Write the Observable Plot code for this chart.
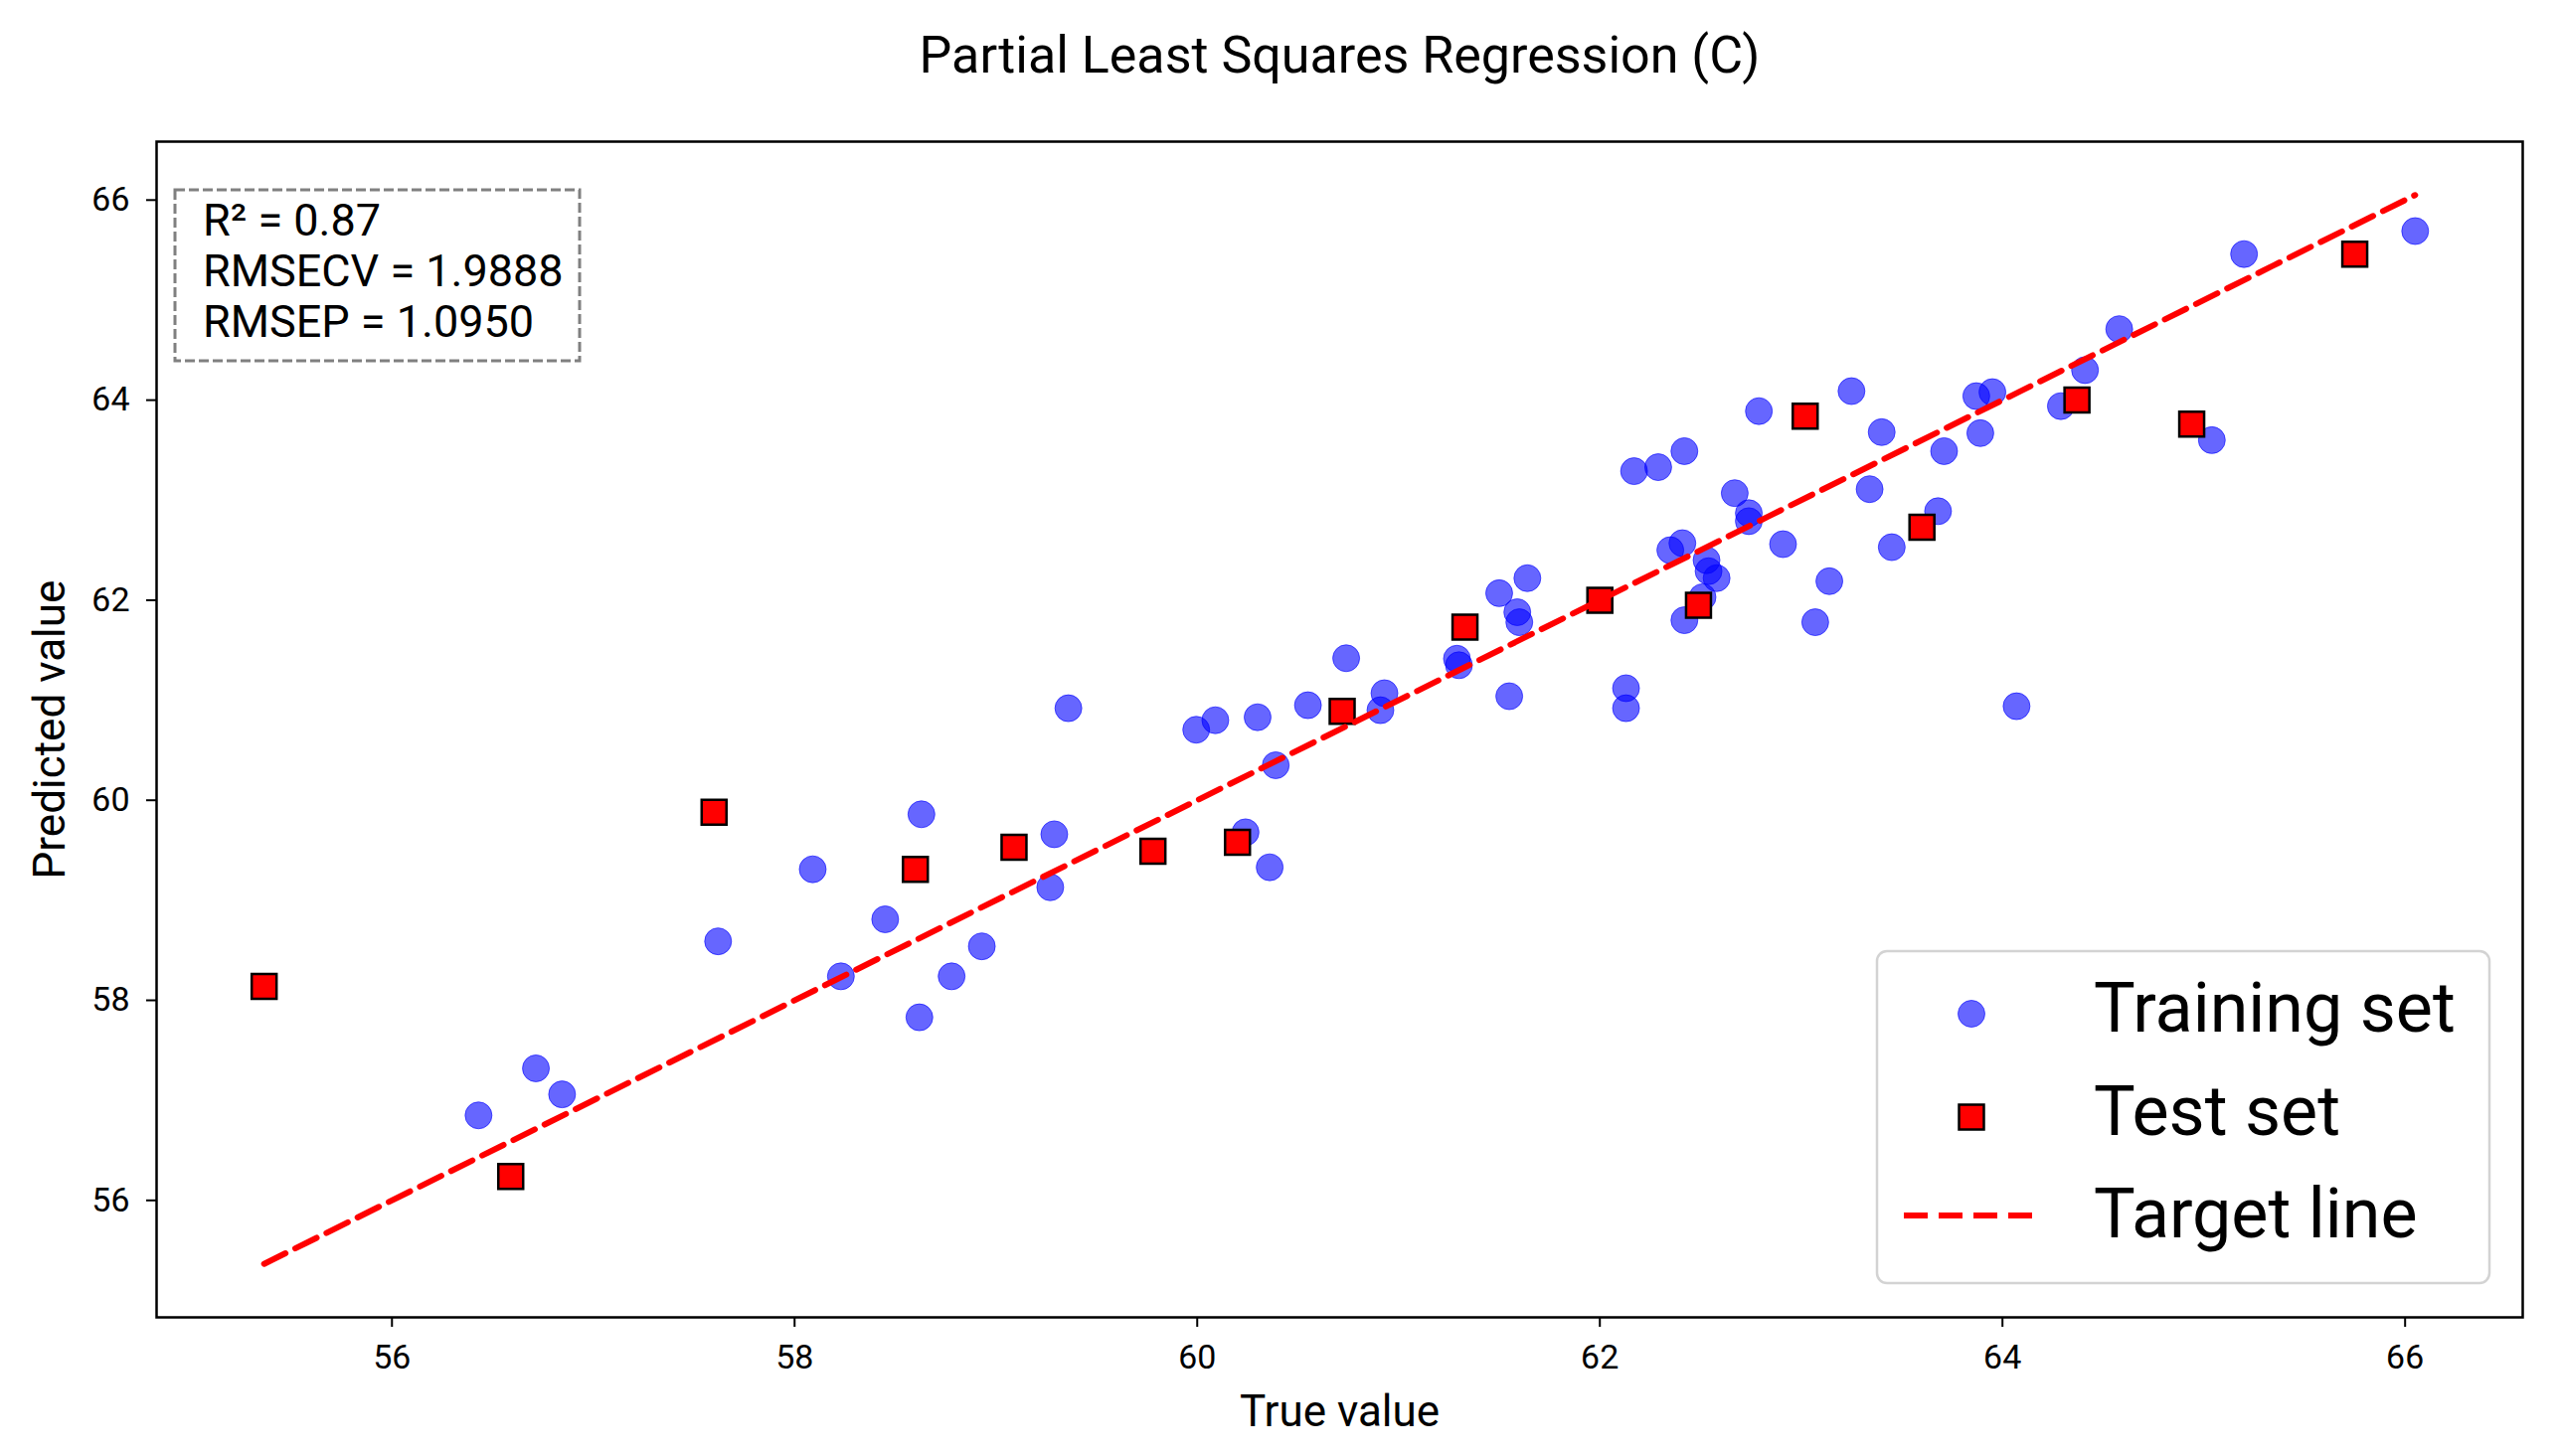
<!DOCTYPE html>
<html>
<head>
<meta charset="utf-8">
<script src="https://cdn.jsdelivr.net/npm/d3@7"></script>
<script src="https://cdn.jsdelivr.net/npm/@observablehq/plot@0.6"></script>
<style>
  html, body { margin: 0; padding: 0; background: white; }
  #chart { width: 2575px; height: 1465px; }
</style>
</head>
<body>
<div id="chart"></div>
<script>
// ---- data ----
const trainTrue = [56.43, 56.715, 56.845, 57.62, 58.09, 58.23, 58.45, 58.62, 58.63, 58.78, 58.93, 59.27, 59.29, 59.36, 59.995, 60.09, 60.24, 60.30, 60.36, 60.39, 60.55, 60.74, 60.91, 60.93, 61.29, 61.30, 61.50, 61.55, 61.59, 61.60, 61.64, 62.13, 62.13, 62.17, 62.29, 62.35, 62.41, 62.42, 62.42, 62.51, 62.53, 62.54, 62.58, 62.67, 62.74, 62.74, 62.79, 62.91, 63.07, 63.14, 63.25, 63.34, 63.40, 63.45, 63.68, 63.71, 63.87, 63.89, 63.95, 64.07, 64.29, 64.41, 64.58, 65.04, 65.20, 66.05];
const trainPred = [56.85, 57.32, 57.06, 58.59, 59.31, 58.24, 58.81, 57.83, 59.86, 58.24, 58.54, 59.13, 59.66, 60.92, 60.705, 60.80, 59.68, 60.83, 59.33, 60.35, 60.95, 61.42, 60.90, 61.07, 61.415, 61.35, 62.07, 61.04, 61.88, 61.78, 62.22, 61.12, 60.92, 63.29, 63.33, 62.50, 62.57, 63.49, 61.80, 62.03, 62.40, 62.29, 62.22, 63.07, 62.87, 62.79, 63.89, 62.56, 61.78, 62.19, 64.09, 63.11, 63.68, 62.53, 62.89, 63.49, 64.04, 63.67, 64.08, 60.94, 63.94, 64.30, 64.71, 63.60, 65.46, 65.69];
const testTrue = [55.365, 56.59, 57.60, 58.60, 59.09, 59.78, 60.20, 60.72, 61.33, 62.00, 62.49, 63.02, 63.60, 64.37, 64.94, 65.75];
const testPred = [58.14, 56.24, 59.88, 59.31, 59.53, 59.49, 59.58, 60.89, 61.73, 62.00, 61.95, 63.84, 62.73, 64.00, 63.76, 65.46];
const xTicks = [56, 58, 60, 62, 64, 66];
const yTicks = [56, 58, 60, 62, 64, 66];
const titleText = "Partial Least Squares Regression (C)";
const xLabel = "True value";
const yLabel = "Predicted value";
const statsLines = ["R\u00B2 = 0.87", "RMSECV = 1.9888", "RMSEP = 1.0950"];
const legendLabels = ["Training set", "Test set", "Target line"];

// ---- derived tables ----
const train = trainTrue.map((t, i) => ({t, p: trainPred[i]}));
const test = testTrue.map((t, i) => ({t, p: testPred[i]}));
const [lo, hi] = d3.extent([...trainTrue, ...testTrue]);
const target = [{t: lo, p: lo}, {t: hi, p: hi}];
const span = hi - lo;
const domain = [lo - 0.05 * span, hi + 0.05 * span];

// ---- layout ----
const W = 2575, H = 1465;
const ML = 157, MR = 38, MT = 142, MB = 140;
const FONT = "Roboto, 'Noto Sans', sans-serif";
const DASH = "24,11";

function statsBox(index, scales, values, dims) {
  const ml = dims?.marginLeft ?? ML, mt = dims?.marginTop ?? MT;
  const g = d3.create("svg:g");
  g.append("rect")
    .attr("x", ml + 19).attr("y", mt + 49)
    .attr("width", 407).attr("height", 172)
    .attr("fill", "white").attr("stroke", "#808080")
    .attr("stroke-width", 3).attr("stroke-dasharray", "10,4");
  statsLines.forEach((s, i) => {
    g.append("text")
      .attr("x", ml + 47).attr("y", mt + 95 + i * 51)
      .attr("text-anchor", "start")
      .attr("font-family", FONT).attr("font-size", 45)
      .attr("fill", "black").text(s);
  });
  return g.node();
}

function legendBox(index, scales, values, dims) {
  const w = dims?.width ?? W, h = dims?.height ?? H;
  const right = w - (dims?.marginRight ?? MR);
  const bottom = h - (dims?.marginBottom ?? MB);
  const g = d3.create("svg:g");
  g.append("rect")
    .attr("x", right - 649).attr("y", bottom - 368)
    .attr("width", 616).attr("height", 334).attr("rx", 10)
    .attr("fill", "white").attr("fill-opacity", 0.8)
    .attr("stroke", "#d3d3d3").attr("stroke-width", 2.5);
  const mx = right - 554;
  g.append("circle")
    .attr("cx", mx).attr("cy", bottom - 305).attr("r", 13.5)
    .attr("fill", "blue").attr("fill-opacity", 0.6)
    .attr("stroke", "blue").attr("stroke-opacity", 0.6);
  g.append("rect")
    .attr("x", mx - 12.5).attr("y", bottom - 201 - 12.5)
    .attr("width", 25).attr("height", 25)
    .attr("fill", "red").attr("stroke", "black").attr("stroke-width", 2.5);
  g.append("line")
    .attr("x1", right - 622).attr("x2", right - 486)
    .attr("y1", bottom - 102).attr("y2", bottom - 102)
    .attr("stroke", "red").attr("stroke-width", 6).attr("stroke-dasharray", DASH);
  const baselines = [287, 183, 80];
  legendLabels.forEach((s, i) => {
    g.append("text")
      .attr("x", right - 431).attr("y", bottom - baselines[i])
      .attr("text-anchor", "start")
      .attr("font-family", FONT).attr("font-size", 70)
      .attr("fill", "black").text(s);
  });
  return g.node();
}

const chart = Plot.plot({
  width: W,
  height: H,
  marginLeft: ML,
  marginRight: MR,
  marginTop: MT,
  marginBottom: MB,
  style: {fontFamily: FONT, fontSize: "34px", color: "black", background: "white", overflow: "visible"},
  x: {domain, label: null},
  y: {domain, label: null},
  marks: [
    Plot.axisX({ticks: xTicks, tickSize: 10, tickPadding: 17, strokeWidth: 2, label: null, fontSize: 34}),
    Plot.axisY({ticks: yTicks, tickSize: 10, tickPadding: 17, strokeWidth: 2, label: null, fontSize: 34}),
    Plot.dot(train, {x: "t", y: "p", r: 13.5, fill: "blue", fillOpacity: 0.6, stroke: "blue", strokeOpacity: 0.6, strokeWidth: 1}),
    Plot.dot(test, {x: "t", y: "p", symbol: "square", r: 14.1, fill: "red", stroke: "black", strokeWidth: 2.5}),
    Plot.line(target, {x: "t", y: "p", stroke: "red", strokeWidth: 6, strokeDasharray: DASH}),
    Plot.frame({stroke: "black", strokeWidth: 2.5}),
    statsBox,
    legendBox,
    Plot.text([titleText], {frameAnchor: "top", lineAnchor: "bottom", dy: -70, fontSize: 52, fill: "black"}),
    Plot.text([xLabel], {frameAnchor: "bottom", lineAnchor: "bottom", dy: 109, fontSize: 44, fill: "black"}),
    Plot.text([yLabel], {frameAnchor: "left", textAnchor: "middle", lineAnchor: "middle", dx: -107, rotate: -90, fontSize: 44, fill: "black"})
  ]
});
document.getElementById("chart").append(chart);
</script>
</body>
</html>
